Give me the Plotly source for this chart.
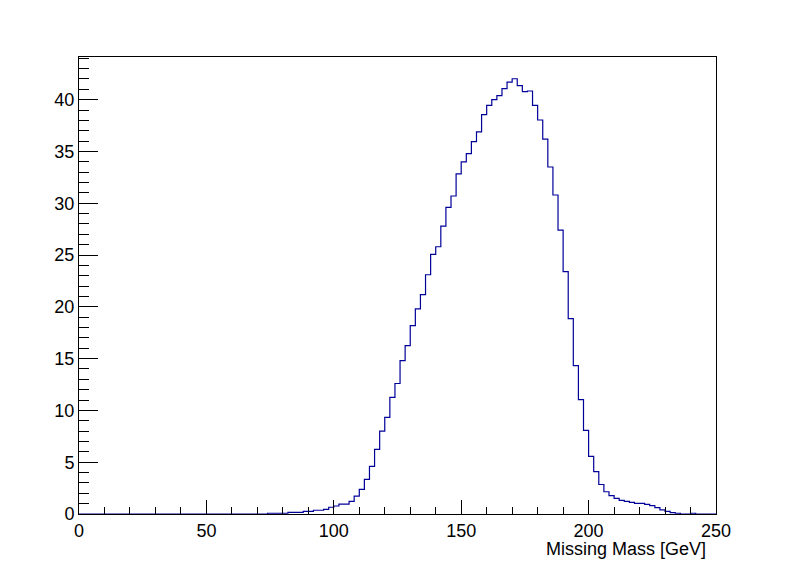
import numpy as np
import plotly.graph_objects as go

# histogram: 2 GeV bins from 0 to 250, non-empty part starts at 74 GeV
bin_width = 2
first_bin = 74
x_lo, x_hi = 0, 250

counts = [
    0.07, 0.07, 0.07, 0.07, 0.16, 0.16, 0.16, 0.26, 0.26, 0.36,   # 74-92
    0.36, 0.45, 0.65, 0.77, 0.96, 0.96, 1.22, 1.73, 2.38, 3.34,   # 94-112
    4.59, 6.23, 8.0, 9.32, 11.25, 12.6, 14.8, 16.26, 18.19, 19.8,  # 114-132
    21.17, 23.1, 25.06, 25.8, 27.8, 29.6, 30.7, 32.84, 34.0, 34.8,  # 134-152
    35.95, 36.9, 38.55, 39.45, 40.0, 40.4, 41.06, 41.7, 42.02, 41.35,  # 154-172
    40.77, 40.84, 39.45, 38.04, 36.2, 33.5, 30.8, 27.4, 23.4, 18.86,  # 174-192
    14.33, 11.05, 8.07, 5.56, 4.1, 2.85, 2.15, 1.77, 1.51, 1.32,   # 194-212
    1.22, 1.13, 1.03, 1.03, 0.93, 0.8, 0.61, 0.39, 0.26, 0.13,     # 214-232
    0.07, 0.0, 0.0, 0.07,                                          # 234-240
]

x_title = "Missing Mass [GeV]"

# full set of bins over the axis range, empty ones at zero
edges = np.arange(x_lo, x_hi + bin_width, bin_width)
vals = np.zeros(len(edges) - 1)
start = (first_bin - x_lo) // bin_width
vals[start:start + len(counts)] = counts

# step outline like ROOT "HIST"
step_x = list(edges)
step_y = list(vals) + [vals[-1]]

fig = go.Figure()
fig.add_trace(go.Scatter(
    x=step_x, y=step_y, mode="lines", line_shape="hv",
    line=dict(color="#000099", width=1.2), hoverinfo="skip",
))

font = dict(family="Liberation Sans, Arial, sans-serif", size=18, color="black")
ymax = 1.05 * max(counts)

# page has an 8px body margin, so pull the frame up/left by that much
fig.update_layout(
    width=796, height=572,
    margin=dict(l=71, r=88, t=49, b=66),
    paper_bgcolor="white", plot_bgcolor="white",
    showlegend=False,
    font=font,
    xaxis=dict(
        range=[x_lo, x_hi], dtick=50, ticks="inside", ticklen=14, tickwidth=1,
        tickcolor="black", showgrid=False, zeroline=False,
        showline=True, linecolor="black", linewidth=1, mirror=True,
        minor=dict(dtick=10, ticks="inside", ticklen=7, tickcolor="black", showgrid=False),
        tickfont=font,
    ),
    yaxis=dict(
        range=[0, ymax], dtick=5, ticks="inside", ticklen=19, tickwidth=1,
        tickcolor="black", showgrid=False, zeroline=False,
        showline=True, linecolor="black", linewidth=1, mirror=True,
        minor=dict(dtick=1, ticks="inside", ticklen=10, tickcolor="black", showgrid=False),
        tickfont=font,
    ),
    annotations=[dict(
        text=x_title, xref="paper", yref="paper", x=1, y=0,
        xanchor="right", yanchor="top", xshift=-8, yshift=-23,
        showarrow=False, font=font,
    )],
)

fig.write_html("out.html")
